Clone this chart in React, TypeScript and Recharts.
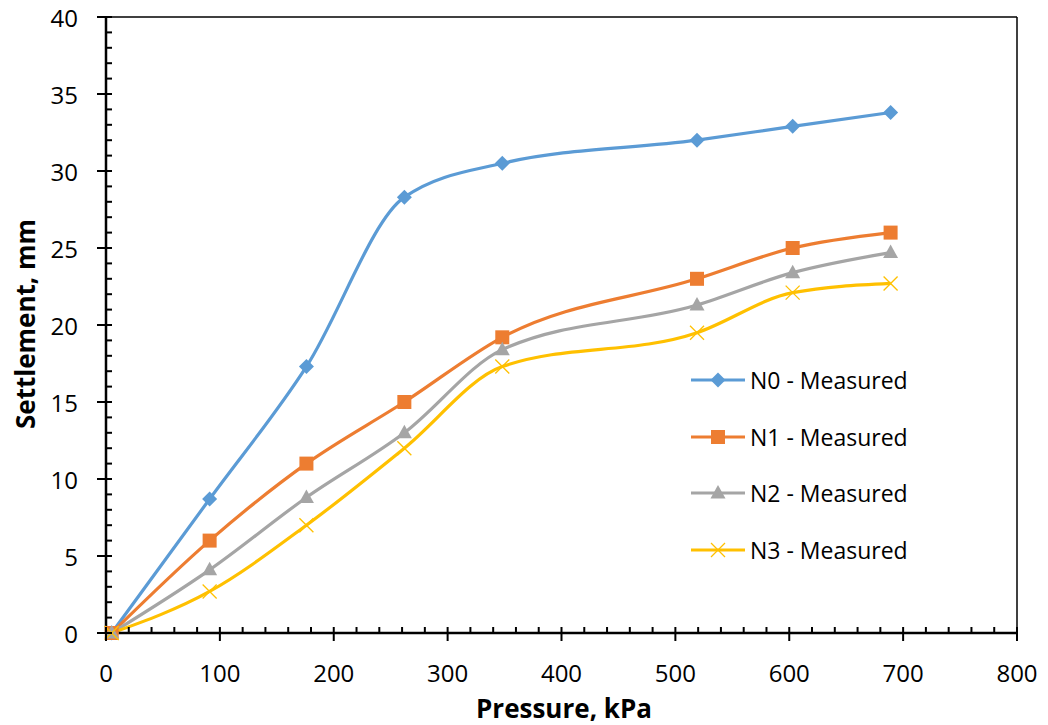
import { LineChart, Line, XAxis, YAxis, Legend, ReferenceLine } from 'recharts'

const pressure = [5, 91, 176, 262, 348, 519, 603, 689]
const n0 = [0, 8.7, 17.3, 28.3, 30.5, 32.0, 32.9, 33.8]
const n1 = [0, 6.0, 11.0, 15.0, 19.2, 23.0, 25.0, 26.0]
const n2 = [0, 4.1, 8.8, 13.0, 18.4, 21.3, 23.4, 24.7]
const n3 = [0, 2.7, 7.0, 12.0, 17.3, 19.5, 22.1, 22.7]

const xTicks = Array.from({ length: 41 }, (_, i) => i * 20)
const yTicks = Array.from({ length: 41 }, (_, i) => i)

const series = [
  { key: 'n0', name: 'N0 - Measured', color: '#5B9BD5', shape: 'diamond' },
  { key: 'n1', name: 'N1 - Measured', color: '#ED7D31', shape: 'square' },
  { key: 'n2', name: 'N2 - Measured', color: '#A5A5A5', shape: 'triangle' },
  { key: 'n3', name: 'N3 - Measured', color: '#FFC000', shape: 'cross' },
]

const data = pressure.map((p, i) => ({ p, n0: n0[i], n1: n1[i], n2: n2[i], n3: n3[i] }))

const FONT = '"Open Sans", sans-serif'

function Marker({ shape, color, cx, cy }: { shape: string; color: string; cx: number; cy: number }) {
  if (shape === 'diamond') {
    return <path d={`M${cx},${cy - 7.5} L${cx + 7.5},${cy} L${cx},${cy + 7.5} L${cx - 7.5},${cy} Z`} fill={color} />
  }
  if (shape === 'square') {
    return <rect x={cx - 7} y={cy - 7} width={14} height={14} fill={color} />
  }
  if (shape === 'triangle') {
    return <path d={`M${cx},${cy - 8} L${cx + 7.5},${cy + 5.5} L${cx - 7.5},${cy + 5.5} Z`} fill={color} />
  }
  return (
    <g stroke={color} strokeWidth={1.3}>
      <line x1={cx - 7} y1={cy - 7} x2={cx + 7} y2={cy + 7} />
      <line x1={cx - 7} y1={cy + 7} x2={cx + 7} y2={cy - 7} />
    </g>
  )
}

const makeDot = (shape: string, color: string) => (props: any) => {
  const { cx, cy, index } = props
  if (cx == null || cy == null) return <g key={index} />
  return <Marker key={index} shape={shape} color={color} cx={cx} cy={cy} />
}

const XTick = (props: any) => {
  const { x, y, payload } = props
  const v = payload.value
  const major = v % 100 === 0
  return (
    <g>
      <line x1={x} x2={x} y1={y - 6} y2={major ? y + 8 : y} stroke="#000" strokeWidth={2} />
      {major && (
        <text x={x} y={y + 39} textAnchor="middle" dominantBaseline="central" fontSize={24} fontFamily={FONT} fill="#000">
          {v}
        </text>
      )}
    </g>
  )
}

const YTick = (props: any) => {
  const { x, y, payload } = props
  const v = payload.value
  const major = v % 5 === 0
  return (
    <g>
      <line x1={major ? x - 9 : x} x2={x + 6} y1={y} y2={y} stroke="#000" strokeWidth={2} />
      {major && (
        <text x={x - 28} y={y} textAnchor="end" dominantBaseline="central" fontSize={24} fontFamily={FONT} fill="#000">
          {v}
        </text>
      )}
    </g>
  )
}

const LegendBox = () => (
  <div style={{ fontFamily: FONT, fontSize: 23, color: '#000' }}>
    {series.map((s) => (
      <div key={s.key} style={{ display: 'flex', alignItems: 'center', height: 56.5 }}>
        <svg width={56} height={20} style={{ marginRight: 4 }}>
          <line x1={1} x2={55} y1={10} y2={10} stroke={s.color} strokeWidth={3.2} />
          <Marker shape={s.shape} color={s.color} cx={28} cy={10} />
        </svg>
        <span>{s.name}</span>
      </div>
    ))}
  </div>
)

export default function App() {
  return (
    <div style={{ position: 'absolute', left: 0, top: 0, background: '#fff' }}>
      <LineChart width={1048} height={725} data={data} margin={{ top: 17, right: 31, bottom: 0, left: 0 }}>
        <XAxis
          dataKey="p"
          type="number"
          domain={[0, 800]}
          ticks={xTicks}
          interval={0}
          tick={<XTick />}
          tickLine={false}
          tickSize={0}
          tickMargin={0}
          height={92}
          axisLine={{ stroke: '#000', strokeWidth: 2.5 }}
          label={{
            content: () => (
              <text x={564} y={708} textAnchor="middle" dominantBaseline="central" fontSize={26} fontWeight="bold" fontFamily={FONT} fill="#000">
                Pressure, kPa
              </text>
            ),
          }}
        />
        <YAxis
          type="number"
          domain={[0, 40]}
          ticks={yTicks}
          interval={0}
          tick={<YTick />}
          tickLine={false}
          tickSize={0}
          tickMargin={0}
          width={106}
          axisLine={{ stroke: '#000', strokeWidth: 2.5 }}
          label={{
            content: () => (
              <text x={25} y={324} transform="rotate(-90 25 324)" textAnchor="middle" dominantBaseline="central" fontSize={26} fontWeight="bold" fontFamily={FONT} fill="#000">
                Settlement, mm
              </text>
            ),
          }}
        />
        <ReferenceLine y={40} stroke="#000" strokeWidth={1.5} />
        <ReferenceLine x={800} stroke="#000" strokeWidth={1.5} />
        {series.map((s) => (
          <Line
            key={s.key}
            type="monotone"
            dataKey={s.key}
            name={s.name}
            stroke={s.color}
            strokeWidth={3.2}
            dot={makeDot(s.shape, s.color)}
            activeDot={false}
            isAnimationActive={false}
          />
        ))}
        <Legend
          layout="horizontal"
          verticalAlign="middle"
          align="center"
          content={<LegendBox />}
          wrapperStyle={{ left: 690, top: 352, width: 260 }}
        />
      </LineChart>
    </div>
  )
}
